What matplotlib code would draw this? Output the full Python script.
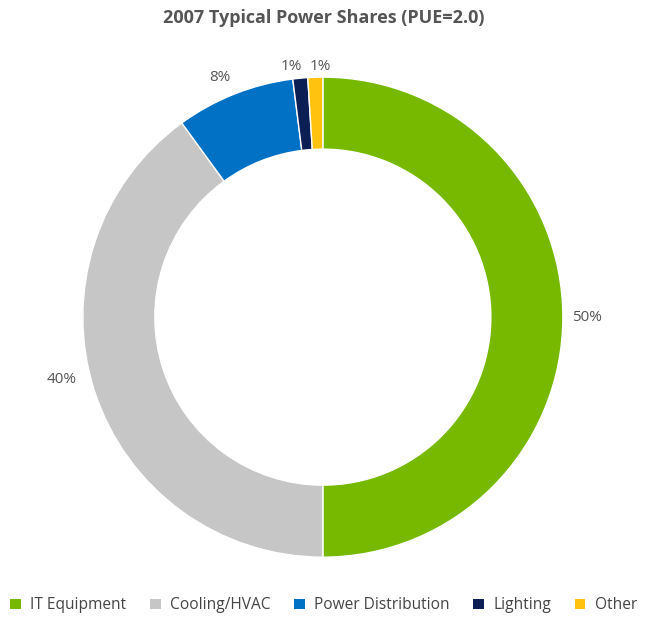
import matplotlib.pyplot as plt
from matplotlib.patches import Patch

categories = ["IT Equipment", "Cooling/HVAC", "Power Distribution", "Lighting", "Other"]
shares = [50, 40, 8, 1, 1]
colors = ["#76b900", "#c6c6c6", "#0071c5", "#0b1f55", "#ffc20e"]

plt.rcParams['font.family'] = ['Open Sans', 'DejaVu Sans']

fig = plt.figure(figsize=(6.47, 6.17), dpi=100)
ax = fig.add_axes([0.128, 0.097, 0.742, 0.778])

wedges, texts, autotexts = ax.pie(
    shares, colors=colors, startangle=90, counterclock=False,
    radius=1, autopct=lambda p: f"{round(p)}%", pctdistance=1.1,
    wedgeprops=dict(width=0.3, edgecolor="white", linewidth=1),
    textprops=dict(color="#555555", fontsize=11))
ax.set_aspect("equal")
ax.set_xlim(-1, 1)
ax.set_ylim(-1, 1)

# spread the small labels so they don't collide
autotexts[1].set_position((-1.09, -0.26))
autotexts[2].set_position((-0.43, 1.0))
autotexts[3].set_position((-0.13, 1.045))
autotexts[4].set_position((-0.01, 1.045))

fig.suptitle("2007 Typical Power Shares (PUE=2.0)", y=0.985, fontsize=13,
             fontweight="bold", color="#555555")

handles = [Patch(facecolor=c, edgecolor="none") for c in colors]
fig.legend(handles, categories, loc="lower center", ncol=5, frameon=False,
           bbox_to_anchor=(0.5, -0.017), fontsize=11.2, labelcolor="#444444",
           handlelength=0.7, handleheight=0.7, handletextpad=0.6, columnspacing=1.5)

fig.savefig("out.png", dpi=100, facecolor="white")
